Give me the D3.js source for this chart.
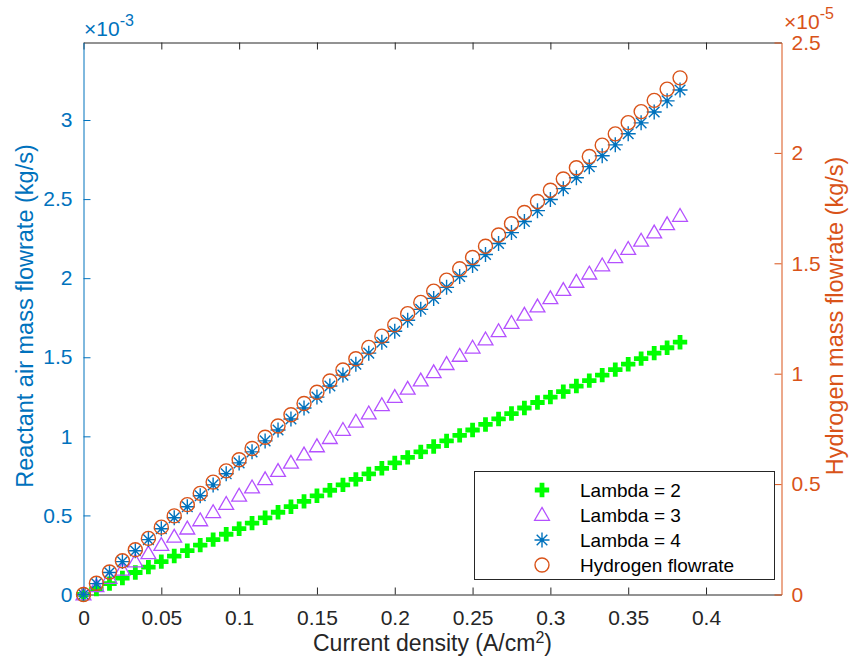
<!DOCTYPE html>
<html>
<head>
<meta charset="utf-8">
<script src="https://cdn.jsdelivr.net/npm/d3@7"></script>
<style>
  body { margin: 0; background: #fff; }
  svg { display: block; font-family: "Liberation Sans", Arial, sans-serif; }
</style>
</head>
<body>
<script>

// current density (A/cm^2)
var currentDensity = [0, 0.0083, 0.0167, 0.025, 0.0333, 0.0417, 0.05, 0.0583, 0.0667, 0.075,
    0.0833, 0.0917, 0.1, 0.1083, 0.1167, 0.125, 0.1333, 0.1417, 0.15, 0.1583,
    0.1667, 0.175, 0.1833, 0.1917, 0.2, 0.2083, 0.2167, 0.225, 0.2333, 0.2417,
    0.25, 0.2583, 0.2667, 0.275, 0.2833, 0.2917, 0.3, 0.3083, 0.3167, 0.325,
    0.3333, 0.3417, 0.35, 0.3583, 0.3667, 0.375, 0.3833];

// reactant air mass flowrate, x 1e-3 kg/s
var airLambda2 = [0, 0.035, 0.069, 0.104, 0.139, 0.173, 0.208, 0.243, 0.277, 0.312,
    0.347, 0.381, 0.416, 0.451, 0.485, 0.520, 0.555, 0.589, 0.624, 0.659,
    0.693, 0.728, 0.763, 0.798, 0.832, 0.867, 0.902, 0.936, 0.971, 1.006,
    1.040, 1.075, 1.110, 1.144, 1.179, 1.214, 1.248, 1.283, 1.318, 1.352,
    1.387, 1.422, 1.456, 1.491, 1.526, 1.560, 1.595];

var airLambda3 = [0, 0.052, 0.104, 0.156, 0.208, 0.260, 0.312, 0.364, 0.416, 0.468,
    0.520, 0.572, 0.624, 0.676, 0.728, 0.780, 0.832, 0.884, 0.936, 0.988,
    1.040, 1.092, 1.144, 1.196, 1.248, 1.300, 1.352, 1.404, 1.456, 1.508,
    1.560, 1.612, 1.664, 1.716, 1.768, 1.820, 1.872, 1.924, 1.976, 2.028,
    2.080, 2.132, 2.184, 2.236, 2.288, 2.340, 2.393];

var airLambda4 = [0, 0.069, 0.139, 0.208, 0.277, 0.347, 0.416, 0.485, 0.555, 0.624,
    0.693, 0.763, 0.832, 0.902, 0.971, 1.040, 1.110, 1.179, 1.248, 1.318,
    1.387, 1.456, 1.526, 1.595, 1.664, 1.734, 1.803, 1.872, 1.942, 2.011,
    2.080, 2.150, 2.219, 2.288, 2.358, 2.427, 2.497, 2.566, 2.635, 2.705,
    2.774, 2.843, 2.913, 2.982, 3.051, 3.121, 3.190];

// hydrogen mass flowrate, x 1e-5 kg/s
var hydrogenFlow = [0, 0.051, 0.102, 0.153, 0.203, 0.254, 0.305, 0.356, 0.407, 0.458,
    0.509, 0.560, 0.610, 0.661, 0.712, 0.763, 0.814, 0.865, 0.916, 0.967,
    1.017, 1.068, 1.119, 1.170, 1.221, 1.272, 1.323, 1.374, 1.424, 1.475,
    1.526, 1.577, 1.628, 1.679, 1.730, 1.780, 1.831, 1.882, 1.933, 1.984,
    2.035, 2.086, 2.137, 2.187, 2.238, 2.289, 2.340];

var legendLabels = ["Lambda = 2", "Lambda = 3", "Lambda = 4", "Hydrogen flowrate"];

var xTicks = [0, 0.05, 0.1, 0.15, 0.2, 0.25, 0.3, 0.35, 0.4];
var yLeftTicks = [0, 0.5, 1, 1.5, 2, 2.5, 3];
var yRightTicks = [0, 0.5, 1, 1.5, 2, 2.5];


var w = 850, h = 662;
var plotLeft = 83.5, plotRight = 781.5, plotTop = 42.5, plotBottom = 594.5;

var blue = "#0072BD", orange = "#D95319", dark = "#262626";
var green = "#00FF00", purple = "#B450FF";
var fontFam = "'Liberation Sans', Arial, sans-serif";
var tickFont = "21px";

var svg = d3.select("body").append("svg")
    .attr("width", w)
    .attr("height", h);

var xScale = d3.scaleLinear().domain([0, 0.4485]).range([plotLeft, plotRight]);
var yLeft = d3.scaleLinear().domain([0, 3.49]).range([plotBottom, plotTop]);
var yRight = d3.scaleLinear().domain([0, 2.5]).range([plotBottom, plotTop]);

function fmt(d) { return String(d); }

// bottom axis
var gx = svg.append("g")
    .attr("transform", "translate(0," + plotBottom + ")")
    .call(d3.axisBottom(xScale).tickValues(xTicks).tickFormat(fmt)
        .tickSize(-7).tickSizeOuter(0).tickPadding(15.5));

// top axis (box), no labels
var gt = svg.append("g")
    .attr("transform", "translate(0," + plotTop + ")")
    .call(d3.axisTop(xScale).tickValues(xTicks).tickFormat("")
        .tickSize(-7).tickSizeOuter(0));

[gx, gt].forEach(function(g) {
    g.select(".domain").attr("stroke", dark);
    g.selectAll(".tick line").attr("stroke", dark);
    g.selectAll("text").attr("fill", dark).style("font-size", tickFont)
        .style("font-family", fontFam);
});

// left axis
var gl = svg.append("g")
    .attr("transform", "translate(" + plotLeft + ",0)")
    .call(d3.axisLeft(yLeft).tickValues(yLeftTicks).tickFormat(fmt)
        .tickSize(-7).tickSizeOuter(0).tickPadding(11));
gl.select(".domain").attr("stroke", blue);
gl.selectAll(".tick line").attr("stroke", blue);
gl.selectAll("text").attr("fill", blue).style("font-size", tickFont)
    .style("font-family", fontFam);

// right axis
var gr = svg.append("g")
    .attr("transform", "translate(" + plotRight + ",0)")
    .call(d3.axisRight(yRight).tickValues(yRightTicks).tickFormat(fmt)
        .tickSize(-7).tickSizeOuter(0).tickPadding(10));
gr.select(".domain").attr("stroke", orange);
gr.selectAll(".tick line").attr("stroke", orange);
gr.selectAll("text").attr("fill", orange).style("font-size", tickFont)
    .style("font-family", fontFam);

// exponent labels
var expL = svg.append("text").attr("x", 84).attr("y", 36)
    .attr("fill", blue).style("font-size", "21px");
expL.append("tspan").text("\u00d710");
expL.append("tspan").attr("dy", -10).style("font-size", "16px").text("-3");

var expR = svg.append("text").attr("x", 784).attr("y", 29)
    .attr("fill", orange).style("font-size", "21px");
expR.append("tspan").text("\u00d710");
expR.append("tspan").attr("dy", -10).style("font-size", "16px").text("-5");

// axis titles
var xl = svg.append("text")
    .attr("x", (plotLeft + plotRight) / 2)
    .attr("y", 651)
    .attr("text-anchor", "middle")
    .attr("fill", dark)
    .style("font-size", "23px");
xl.append("tspan").text("Current density (A/cm");
xl.append("tspan").attr("dy", -8).style("font-size", "16px").text("2");
xl.append("tspan").attr("dy", 8).text(")");

svg.append("text")
    .attr("transform", "translate(33," + 316 + ") rotate(-90)")
    .attr("text-anchor", "middle")
    .attr("fill", blue)
    .style("font-size", "23.5px")
    .text("Reactant air mass flowrate (kg/s)");

svg.append("text")
    .attr("transform", "translate(843," + 316 + ") rotate(-90)")
    .attr("text-anchor", "middle")
    .attr("fill", orange)
    .style("font-size", "23.5px")
    .text("Hydrogen mass flowrate (kg/s)");

// markers
var crossPath = d3.symbol().type(d3.symbolCross).size(115)();
var triPath = d3.symbol().type(d3.symbolTriangle).size(95)();

function starPath(r) {
    var d = r * Math.SQRT1_2;
    return "M" + (-r) + ",0L" + r + ",0M0," + (-r) + "L0," + r +
        "M" + (-d) + "," + (-d) + "L" + d + "," + d +
        "M" + (-d) + "," + d + "L" + d + "," + (-d);
}

function drawCross(g, x, y) {
    g.append("path").attr("d", crossPath)
        .attr("transform", "translate(" + x + "," + y + ")")
        .attr("fill", green);
}
function drawTri(g, x, y) {
    g.append("path").attr("d", triPath)
        .attr("transform", "translate(" + x + "," + (y + 1) + ")")
        .attr("fill", "none").attr("stroke", purple).attr("stroke-width", 1.3);
}
function drawStar(g, x, y) {
    g.append("path").attr("d", starPath(7.5))
        .attr("transform", "translate(" + x + "," + y + ")")
        .attr("fill", "none").attr("stroke", blue).attr("stroke-width", 1.4);
    g.append("circle").attr("cx", x).attr("cy", y).attr("r", 1.8).attr("fill", blue);
}
function drawCircle(g, x, y) {
    g.append("circle").attr("cx", x).attr("cy", y).attr("r", 7)
        .attr("fill", "none").attr("stroke", orange).attr("stroke-width", 1.4);
}

var marks = svg.append("g");

currentDensity.forEach(function(c, i) {
    drawCross(marks, xScale(c), yLeft(airLambda2[i]));
});
currentDensity.forEach(function(c, i) {
    drawTri(marks, xScale(c), yLeft(airLambda3[i]));
});
currentDensity.forEach(function(c, i) {
    drawStar(marks, xScale(c), yLeft(airLambda4[i]));
});
currentDensity.forEach(function(c, i) {
    drawCircle(marks, xScale(c), yRight(hydrogenFlow[i]));
});

// legend
var lg = svg.append("g");
lg.append("rect")
    .attr("x", 474.5).attr("y", 471.5)
    .attr("width", 300).attr("height", 108)
    .attr("fill", "#fff").attr("stroke", dark).attr("stroke-width", 1);

var drawers = [drawCross, drawTri, drawStar, drawCircle];
legendLabels.forEach(function(label, i) {
    var y = 490 + i * 25;
    drawers[i](lg, 542, y);
    lg.append("text")
        .attr("x", 580).attr("y", y)
        .attr("dy", "0.35em")
        .attr("fill", "#000")
        .style("font-size", "19px")
        .text(label);
});

</script>
</body>
</html>
